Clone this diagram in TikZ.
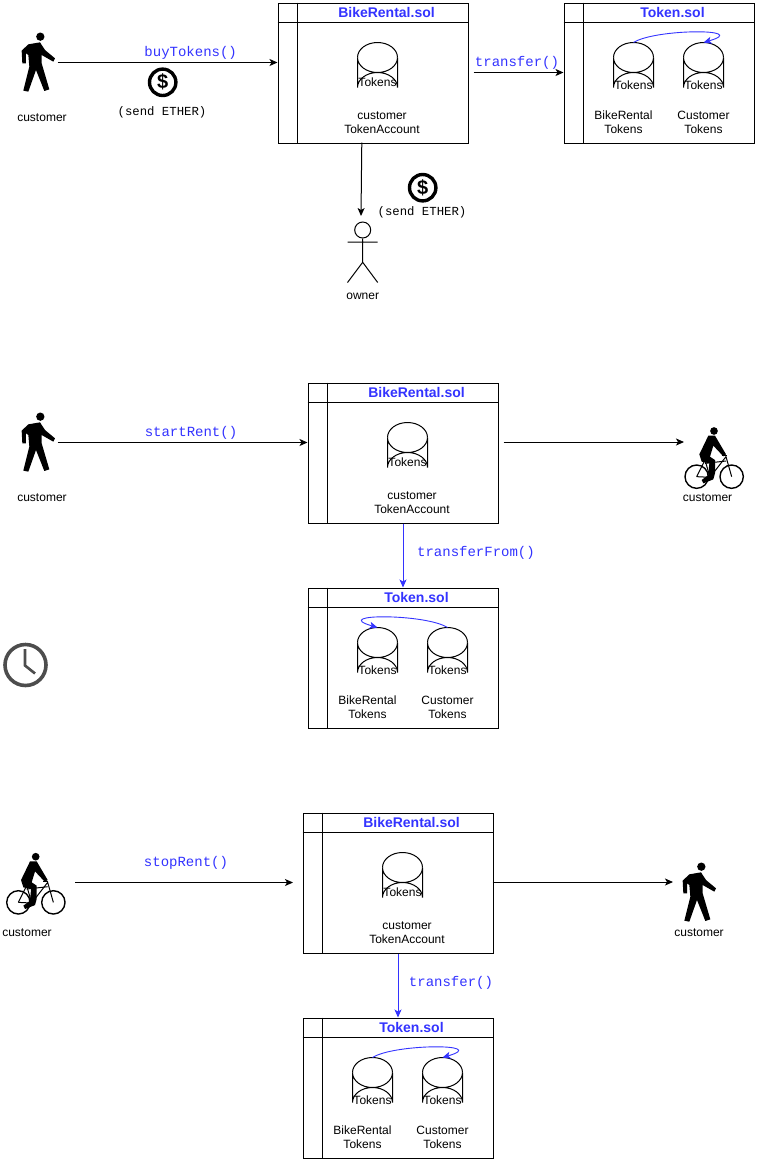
\documentclass[tikz,border=0pt]{standalone}
\usepackage{fontspec}
\setmainfont{Liberation Sans}
\newfontfamily\monofam{Liberation Mono}
\usetikzlibrary{arrows.meta,calc}
\definecolor{solblue}{HTML}{3333FF}
\definecolor{clockgray}{HTML}{4D4D4D}
\tikzset{
  conn/.style={line width=1pt,-{Stealth[length=8pt,width=7pt,inset=2pt]}},
  blueconn/.style={conn,draw=solblue},
  contract/.style={draw=black,line width=1pt,minimum width=190pt,minimum height=140pt,inner sep=0pt,anchor=north west},
  title/.style={font=\fontsize{14}{16}\selectfont\bfseries,text=solblue,inner sep=0pt},
  lbl/.style={font=\fontsize{12}{14}\selectfont,align=center,inner sep=0pt,text=black},
  fn/.style={font=\monofam\fontsize{14}{16}\selectfont,text=solblue,inner sep=0pt},
  ether/.style={font=\monofam\fontsize{12.3}{14}\selectfont,text=black,inner sep=0pt},
  cylline/.style={draw=black,line width=1pt,fill=white}
}
% contract box: name, x, y, title
\newcommand{\contractbox}[4]{%
  \node[contract] (#1) at (#2,#3) {};
  \draw[line width=1pt] ($(#1.north west)+(0,20)$) -- ($(#1.north east)+(0,20)$);
  \draw[line width=1pt] ($(#1.north west)+(20,0)$) -- ($(#1.south west)+(20,0)$);
  \node[title] (#1title) at ($(#1.north west)+(109,10)$) {#4};
}
% cylinder: name, x, y of top-left, label y offset
\newcommand{\tokencyl}[4]{%
  \draw[cylline] (#2,#3+15) arc[x radius=20,y radius=15,start angle=180,end angle=0]
     -- (#2+40,#3+45) arc[x radius=20,y radius=15,start angle=0,end angle=-180] -- cycle;
  \draw[line width=1pt] (#2,#3+15) arc[x radius=20,y radius=15,start angle=180,end angle=360];
  \node[lbl] (#1) at (#2+20,#3+#4) {Tokens};
}
\newcommand{\rentalbox}[4]{% name x y title
  \contractbox{#1}{#2}{#3}{BikeRental.sol}
  \tokencyl{#1c}{#2+80}{#3+40}{40}
  \node[lbl] (#1a) at (#2+104.5,#3+120) {customer\\[-0.2pt]TokenAccount};
}
\newcommand{\tokenbox}[3]{% name x y
  \contractbox{#1}{#2}{#3}{Token.sol}
  \tokencyl{#1p}{#2+50}{#3+40}{43}
  \tokencyl{#1q}{#2+120}{#3+40}{43}
  \node[lbl] (#1a) at (#2+60,#3+120) {BikeRental\\[-0.2pt]Tokens};
  \node[lbl] (#1b) at (#2+140,#3+120) {Customer\\[-0.2pt]Tokens};
}
\newcommand{\walkerfig}[2]{%
  \begin{scope}[shift={(#1,#2)},x=.3333pt,y=-.3333pt]
    \fill (121,110) circle[radius=12.5];
    \fill (85,133) -- (120,127) -- (135,150) -- (165,175) -- (160,185) -- (125,165) -- (125,190)
      -- (148,268) -- (133,273) -- (108,210) -- (85,275) -- (70,272) -- (88,200) -- (85,165)
      -- (78,160) -- (78,190) -- (67,190) -- (65,152) -- cycle;
  \end{scope}}
\newcommand{\bikerfig}[2]{%
  \begin{scope}[shift={(#1,#2)},x=.3333pt,y=-.3333pt]
    \fill (162,48) circle[radius=11.5];
    \fill (145,62) -- (165,62) -- (198,118) -- (190,124) -- (160,92) -- (150,125) -- (165,135)
      -- (165,175) -- (160,193) -- (130,205) -- (125,195) -- (145,180) -- (148,145) -- (125,140)
      -- (118,118) -- cycle;
    \draw[line width=1.4pt] (110,185) circle[radius=35];
    \draw[line width=1.4pt] (215,185) circle[radius=35];
    \draw[line width=1pt] (110,185) -- (135,135) -- (150,187) -- (198,125) -- (215,185);
    \draw[line width=1pt] (110,185) -- (150,187);
    \draw[line width=1pt] (135,145) -- (198,138);
    \draw[line width=1pt] (185,122) -- (200,122);
    \fill (150,187) circle[radius=9];
  \end{scope}}
\newcommand{\dollarfig}[3]{%
  \draw[line width=3.4pt] (#2,#3) circle[radius=13.2];
  \node[inner sep=0pt,font=\fontsize{20}{22}\selectfont\bfseries] (#1) at (#2,#3) {\$};
}
\begin{document}
\begin{tikzpicture}[x=1pt,y=-1pt]
\useasboundingbox (0,0) rectangle (756,1160);
\fill[white] (0,0) rectangle (756,1160);

% --- section 1
\walkerfig{0}{0}
\node[lbl] (cust1) at (42,118) {customer};
\coordinate (w1) at (57.5,62.5);
\rentalbox{ra}{277.5}{2.5}{}
\tokenbox{ta}{563.5}{2.5}
\draw[conn] (w1) -- (ra.west |- w1);
\node[fn] (buy) at (190.7,53) {buyTokens()};
\dollarfig{da}{162.7}{82.3}
\node[ether] (ea) at (162,112.5) {(send ETHER)};
\coordinate (x1) at (473.5,72.5);
\draw[conn] (x1) -- (ta.west |- x1);
\node[fn] (tra) at (517,63) {transfer()};
\draw[blueconn,line width=.9pt] (ta.north west) ++(70,40) coordinate (tap) .. controls +(22,-14) and +(48,-14) .. +(70,0);
% owner
\node[draw,circle,line width=1pt,minimum size=16pt,inner sep=0pt] (ownerhead) at (362.7,230) {};
\coordinate (nk) at (362.7,242);
\coordinate (hip) at (362.7,262.3);
\draw[line width=1pt] (ownerhead.south) -- (hip) -- (347.5,282.5) (hip) -- (377.7,282.5) (347.5,242) -- (377.7,242);
\node[lbl] (ownerl) at (362.7,296) {owner};
\coordinate (s1) at (361.8,142.5);
\coordinate (e1) at (361,216);
\draw[conn] (s1) -- (e1);
\dollarfig{db}{422.7}{187.7}
\node[ether] (eb) at (422,212.5) {(send ETHER)};

% --- section 2
\walkerfig{0}{380}
\node[lbl] (cust2) at (42,498) {customer};
\coordinate (w2) at (57.5,442.5);
\rentalbox{rb}{307.5}{382.5}{}
\tokenbox{tb}{307.5}{587.5}
\draw[conn] (w2) -- (rb.west |- w2);
\node[fn] (start) at (191,433) {startRent()};
\coordinate (x2) at (503.5,442);
\coordinate (bk2) at (684,442);
\draw[conn] (x2) -- (bk2);
\bikerfig{660}{415}
\node[lbl] (cust3) at (707.5,498) {customer};
\draw[blueconn] (rb.south -| 403,0) -- (tb.north -| 403,0);
\node[fn] (tf) at (476,553) {transferFrom()};
\draw[blueconn,line width=.9pt] (tb.north west) ++(140,40) coordinate (tbp) .. controls +(-22,-14) and +(-48,-14) .. +(-70,0);
% clock
\draw[clockgray,line width=3.6pt] (25.5,665) circle[radius=20.5];
\draw[clockgray,line width=2.6pt] (25,649) -- (25,665.5) -- (35,673.5);

% --- section 3
\bikerfig{-18.3}{840.7}
\node[lbl] (cust4) at (27,933) {customer};
\coordinate (w3) at (75,882.5);
\rentalbox{rc}{302.5}{812.5}{}
\tokenbox{tc}{302.5}{1017.5}
\coordinate (e3) at (293,882.5);
\draw[conn] (w3) -- (e3);
\node[fn] (stop) at (186,863) {stopRent()};
\coordinate (x3) at (492.5,882);
\coordinate (wk3) at (673,882);
\draw[conn] (x3) -- (wk3);
\walkerfig{661}{830}
\node[lbl] (cust5) at (699,933) {customer};
\draw[blueconn] (rc.south -| 398,0) -- (tc.north -| 398,0);
\node[fn] (tr3) at (451,983) {transfer()};
\draw[blueconn,line width=.9pt] (tc.north west) ++(70,40) coordinate (tcp) .. controls +(22,-14) and +(48,-14) .. +(70,0);
\end{tikzpicture}
\end{document}
